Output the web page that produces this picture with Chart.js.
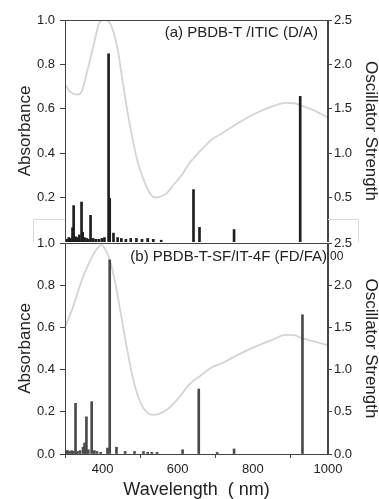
<!DOCTYPE html>
<html>
<head>
<meta charset="utf-8">
<script src="https://cdn.jsdelivr.net/npm/chart.js@4"></script>
<style>
  html, body { margin: 0; padding: 0; background: #fff; }
  #wrap { position: relative; width: 379px; height: 499px; }
  #chartA { position: absolute; left: 0; top: 0; }
  #chartB { position: absolute; left: 0; top: 232px; }
</style>
</head>
<body>
<div id="wrap">
  <canvas id="chartA" width="379" height="242"></canvas>
  <canvas id="chartB" width="379" height="267"></canvas>
</div>
<script>
// ---- data ----
const xTicks = [400, 600, 800, 1000];
const absTicksA = [0.2, 0.4, 0.6, 0.8, 1.0];
const oscTicksA = [0.5, 1.0, 1.5, 2.0, 2.5];
const absTicksB = [0.0, 0.2, 0.4, 0.6, 0.8, 1.0];
const oscTicksB = [0.0, 0.5, 1.0, 1.5, 2.0, 2.5];

// (a) PBDB-T /ITIC  absorbance curve
const wlA  = [300, 315, 334, 345, 352, 365, 378, 392, 405, 418, 430, 440, 452, 465, 478, 492, 505, 518, 530, 540, 555, 571, 590, 610, 631, 660, 690, 718, 760, 808, 850, 887, 910, 929, 960, 1000];
const absA = [0.71, 0.675, 0.664, 0.68, 0.72, 0.81, 0.90, 0.99, 1.00, 0.99, 0.94, 0.87, 0.74, 0.60, 0.48, 0.37, 0.30, 0.245, 0.21, 0.20, 0.205, 0.22, 0.26, 0.30, 0.355, 0.41, 0.46, 0.49, 0.535, 0.58, 0.61, 0.627, 0.625, 0.614, 0.595, 0.56];
// (a) oscillator strengths
const stickWlA = [305, 310, 315, 320, 323, 328, 333, 338, 344, 347, 352, 358, 362, 368, 375, 382, 390, 398, 405, 416, 419, 429, 440, 450, 462, 475, 490, 505, 520, 535, 556, 642, 658, 750, 926];
const stickFA  = [0.03, 0.05, 0.04, 0.16, 0.41, 0.06, 0.05, 0.08, 0.45, 0.11, 0.05, 0.04, 0.03, 0.30, 0.04, 0.03, 0.03, 0.04, 0.05, 2.12, 0.49, 0.10, 0.05, 0.04, 0.03, 0.04, 0.04, 0.03, 0.04, 0.03, 0.02, 0.59, 0.165, 0.14, 1.64];

// (b) PBDB-T-SF/IT-4F  absorbance curve
const wlB  = [300, 320, 342, 360, 380, 398, 410, 421, 435, 445, 455, 468, 482, 495, 508, 520, 534, 550, 571, 600, 631, 660, 690, 718, 760, 808, 850, 887, 910, 929, 960, 1000];
const absB = [0.60, 0.69, 0.81, 0.89, 0.96, 0.99, 0.96, 0.91, 0.80, 0.70, 0.60, 0.47, 0.35, 0.27, 0.22, 0.195, 0.185, 0.19, 0.21, 0.26, 0.33, 0.37, 0.41, 0.43, 0.47, 0.51, 0.54, 0.565, 0.563, 0.55, 0.535, 0.515];
// (b) oscillator strengths
const stickWlB = [303, 307, 312, 318, 322, 328, 333, 340, 348, 352, 357, 362, 371, 378, 385, 395, 413, 419, 437, 460, 485, 509, 520, 531, 545, 613, 656, 705, 750, 932];
const stickFB  = [0.04, 0.04, 0.03, 0.04, 0.03, 0.60, 0.03, 0.04, 0.08, 0.13, 0.44, 0.05, 0.62, 0.04, 0.03, 0.02, 0.07, 2.30, 0.08, 0.03, 0.03, 0.03, 0.02, 0.02, 0.02, 0.05, 0.77, 0.02, 0.06, 1.65];

// ---- helpers ----
const FONT = "'Liberation Sans', Arial, Helvetica, sans-serif";
const AXIS = "#444";
Chart.defaults.font.family = FONT;
Chart.defaults.color = "#222";

const pts = (xs, ys) => xs.map((x, i) => ({ x: x, y: ys[i] }));
const fixTicks = (list) => (s) => { s.ticks = list.map(v => ({ value: v })); };

// box around plot area + the panel caption (+ faint paste marks of the original figure)
const framePlugin = {
  id: "frame",
  afterDraw(chart, args, opts) {
    const { ctx, chartArea: a } = chart;
    ctx.save();
    if (opts.pasteMarks) {
      ctx.strokeStyle = "#dcdcdc";
      ctx.lineWidth = 1;
      ctx.beginPath();
      ctx.moveTo(33.5, a.bottom); ctx.lineTo(33.5, a.bottom - 22.5); ctx.lineTo(a.left, a.bottom - 22.5);
      ctx.moveTo(a.right, a.bottom - 22.5); ctx.lineTo(358.5, a.bottom - 22.5); ctx.lineTo(358.5, a.bottom);
      ctx.stroke();
    }
    ctx.strokeStyle = AXIS;
    ctx.lineWidth = 1;
    ctx.strokeRect(Math.round(a.left) + 0.5, Math.round(a.top) + 0.5,
                   Math.round(a.right - a.left) - 1, Math.round(a.bottom - a.top));
    ctx.fillStyle = "#222";
    ctx.font = "15px " + FONT;
    ctx.textAlign = "right";
    ctx.textBaseline = "middle";
    ctx.fillText(opts.text, a.right - opts.dx, a.top + opts.dy);
    if (opts.extra) {
      ctx.font = "12px " + FONT;
      ctx.textAlign = "left";
      ctx.fillText(opts.extra, a.right + 2, a.top + opts.dy);
    }
    ctx.restore();
  }
};

function yAxis(side, max, list, title, titleOpts) {
  return {
    position: side,
    min: 0,
    max: max,
    afterBuildTicks: fixTicks(list),
    afterFit: (s) => {
      s.width = side === "left" ? 65 : 51;
      s.paddingTop = 0;
      s.paddingBottom = 0;
    },
    ticks: {
      font: { size: 13 },
      color: "#222",
      padding: side === "left" ? 5 : 2,
      callback: (v) => Number(v).toFixed(1)
    },
    grid: { drawOnChartArea: false, tickLength: side === "left" ? 5 : 4, color: AXIS },
    border: { color: AXIS },
    title: Object.assign({ display: true, text: title, color: "#222" }, titleOpts)
  };
}

function makeChart(canvas, panel) {
  const isA = panel === "a";
  return new Chart(canvas, {
    type: "line",
    data: {
      datasets: [
        {
          type: "bar",
          data: pts(isA ? stickWlA : stickWlB, isA ? stickFA : stickFB),
          yAxisID: "y2",
          backgroundColor: isA ? "#1e1e1e" : "#4a4a4a",
          barThickness: 2,
          order: 0
        },
        {
          type: "line",
          data: pts(isA ? wlA : wlB, isA ? absA : absB),
          yAxisID: "y",
          borderColor: "#d4d4d4",
          borderWidth: 1.8,
          pointRadius: 0,
          cubicInterpolationMode: "monotone",
          order: 1
        }
      ]
    },
    options: {
      responsive: false,
      animation: false,
      layout: { padding: { top: isA ? 20 : 11, bottom: 0, left: 0, right: 0 } },
      plugins: {
        legend: { display: false },
        tooltip: { enabled: false },
        frame: isA
          ? { text: "(a) PBDB-T /ITIC (D/A)", dx: 10, dy: 13, pasteMarks: true }
          : { text: "(b) PBDB-T-SF/IT-4F (FD/FA)", dx: 1, dy: 14, extra: "00" }
      },
      scales: {
        x: {
          type: "linear",
          min: 300,
          max: 1000,
          offset: false,
          display: !isA,
          afterBuildTicks: fixTicks(xTicks),
          afterFit: (s) => { s.height = isA ? 0 : 45; s.paddingLeft = 0; s.paddingRight = 0; },
          ticks: { font: { size: 13 }, color: "#222", padding: 4, maxRotation: 0, callback: (v) => String(v) },
          grid: { drawOnChartArea: false, tickLength: 4, color: AXIS },
          border: { color: AXIS },
          title: {
            display: true,
            text: "Wavelength  ( nm)",
            color: "#222",
            font: { size: 18, lineHeight: 1 },
            padding: 0
          }
        },
        y: yAxis("left", 1, isA ? absTicksA : absTicksB, "Absorbance",
                 { font: { size: 17, lineHeight: 1.2 }, padding: { top: 15, bottom: 0 } }),
        y2: yAxis("right", 2.5, isA ? oscTicksA : oscTicksB, "Oscillator Strength",
                  { font: { size: 17, lineHeight: 1 }, padding: 0 })
      }
    },
    plugins: [framePlugin]
  });
}

makeChart(document.getElementById("chartA"), "a");
makeChart(document.getElementById("chartB"), "b");
</script>
</body>
</html>
